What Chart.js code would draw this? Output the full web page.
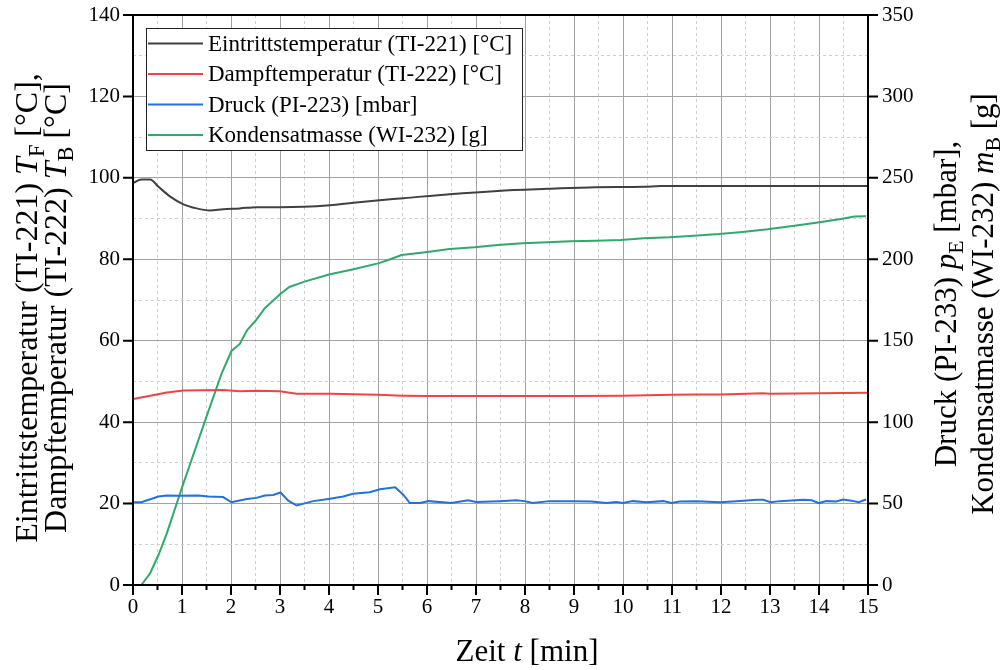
<!DOCTYPE html>
<html><head><meta charset="utf-8">
<script src="https://cdn.jsdelivr.net/npm/chart.js@4.4.1/dist/chart.umd.min.js"></script>
<style>html,body{margin:0;padding:0;background:#fff;}canvas{display:block;}</style>
</head><body>
<canvas id="c" width="1003" height="670"></canvas>
<script>
// ---- data (time in min) ----
const tEintritt = [0, 0.17, 0.35, 0.52, 0.76, 1.03, 1.3, 1.57, 1.84, 2.18, 2.52, 3.0, 3.48, 4.02, 4.5, 5.03, 5.52, 6.46, 7.44, 8.46, 9.44, 10.43, 10.77, 12, 13, 14, 15];
const eintritt  = [98.7, 99.6, 99.6, 97.8, 95.4, 93.5, 92.5, 92.0, 92.3, 92.5, 92.8, 92.8, 92.9, 93.3, 93.9, 94.5, 95.0, 96.0, 96.8, 97.3, 97.7, 97.8, 98.0, 98.0, 98.0, 98.0, 98.0];

const tDampf = [0, 0.35, 0.69, 1.03, 1.84, 2.18, 2.52, 3.0, 3.34, 4.02, 5.0, 5.5, 6.0, 7.0, 8.0, 9.0, 10.0, 11.0, 11.5, 12.0, 12.85, 13.0, 14.0, 15.0];
const dampf  = [45.7, 46.5, 47.3, 47.8, 47.9, 47.6, 47.7, 47.6, 47.0, 47.0, 46.7, 46.5, 46.4, 46.4, 46.4, 46.4, 46.5, 46.7, 46.8, 46.8, 47.1, 47.0, 47.1, 47.2];

const tDruck = [0, 0.17, 0.52, 0.69, 0.93, 1.33, 1.54, 1.84, 2.01, 2.32, 2.52, 2.69, 2.86, 3.01, 3.17, 3.34, 3.68, 4.02, 4.29, 4.49, 4.83, 5.04, 5.35, 5.52, 5.65, 5.86, 6.03, 6.5, 6.84, 7.0, 7.48, 7.82, 7.99, 8.16, 8.5, 8.98, 9.35, 9.66, 9.86, 10.0, 10.2, 10.48, 10.82, 10.99, 11.16, 11.5, 11.98, 12.32, 12.73, 12.86, 13.01, 13.2, 13.68, 13.85, 14.0, 14.15, 14.35, 14.49, 14.66, 14.81, 14.96];
const druck  = [50.8, 50.8, 54.3, 55.0, 54.8, 55.0, 54.3, 54.0, 50.8, 52.8, 53.5, 55.0, 55.3, 56.8, 51.8, 48.8, 51.5, 53.0, 54.3, 56.0, 57.0, 58.8, 60.0, 55.3, 50.3, 50.3, 51.5, 50.3, 52.0, 51.0, 51.5, 52.0, 51.5, 50.3, 51.5, 51.5, 51.3, 50.3, 51.0, 50.3, 51.5, 50.8, 51.5, 50.3, 51.3, 51.5, 50.8, 51.5, 52.3, 52.3, 50.8, 51.5, 52.3, 52.0, 50.3, 51.5, 51.3, 52.5, 51.8, 50.8, 52.5];

const tKond = [0, 0.17, 0.35, 0.52, 0.69, 1.03, 1.5, 1.81, 2.01, 2.18, 2.33, 2.52, 2.69, 3.0, 3.19, 3.5, 4.0, 4.5, 5.0, 5.21, 5.48, 5.97, 6.46, 6.97, 7.44, 7.95, 8.46, 8.93, 9.44, 9.95, 10.43, 10.94, 11.45, 11.96, 12.44, 12.95, 13.46, 13.94, 14.45, 14.72, 14.96];
const kond  = [0, 0, 7.2, 18.4, 31.7, 62.5, 103.4, 130, 143.7, 148, 156.6, 163, 170, 178.5, 183, 186.3, 190.6, 193.9, 197.5, 199.6, 202.6, 204.3, 206.3, 207.4, 208.8, 209.8, 210.4, 211.0, 211.4, 211.8, 212.9, 213.5, 214.5, 215.5, 216.8, 218.4, 220.4, 222.5, 224.8, 226.2, 226.4];

const seriesLabels = ['Eintrittstemperatur (TI-221) [°C]', 'Dampftemperatur (TI-222) [°C]', 'Druck (PI-223) [mbar]', 'Kondensatmasse (WI-232) [g]'];
const xTickLabels = [0,1,2,3,4,5,6,7,8,9,10,11,12,13,14,15];
const leftTickLabels = [0,20,40,60,80,100,120,140];
const rightTickLabels = [0,50,100,150,200,250,300,350];

const FONT = '"Liberation Serif", "Times New Roman", serif';
const pts = (t, v) => t.map((x, i) => ({x: x, y: v[i]}));

function fontStr(size, italic){ return (italic ? 'italic ' : '') + size + 'px ' + FONT; }
function drawRuns(ctx, runs, x, y, rot, size){
  ctx.save();
  ctx.translate(x, y);
  ctx.rotate(rot);
  ctx.textBaseline = 'alphabetic';
  ctx.textAlign = 'left';
  ctx.fillStyle = '#000';
  let total = 0;
  runs.forEach(r => { const s = r.sub ? size*0.7 : size; ctx.font = fontStr(s, r.it); total += ctx.measureText(r.t).width; });
  let cx = -total/2;
  runs.forEach(r => {
    const s = r.sub ? size*0.7 : size;
    ctx.font = fontStr(s, r.it);
    ctx.fillText(r.t, cx, r.sub ? size*0.22 : 0);
    cx += ctx.measureText(r.t).width;
  });
  ctx.restore();
}

const decor = {
  id: 'decor',
  afterDraw(chart){
    const ctx = chart.ctx, a = chart.chartArea;
    const sx = chart.scales.x, sy = chart.scales.y, sy2 = chart.scales.y2;
    ctx.save();
    // frame
    ctx.strokeStyle = '#000'; ctx.lineWidth = 2;
    ctx.strokeRect(a.left, a.top, a.right - a.left, a.bottom - a.top);
    // ticks
    ctx.beginPath();
    sx.ticks.forEach(tk => {
      const p = sx.getPixelForValue(tk.value);
      const len = xTickLabels.includes(tk.value) ? 10 : 5;
      ctx.moveTo(p, a.bottom); ctx.lineTo(p, a.bottom + len);
    });
    sy.ticks.forEach(tk => {
      if (!leftTickLabels.includes(tk.value)) return;
      const p = sy.getPixelForValue(tk.value);
      ctx.moveTo(a.left, p); ctx.lineTo(a.left - 10, p);
    });
    sy2.ticks.forEach(tk => {
      if (!rightTickLabels.includes(tk.value)) return;
      const p = sy2.getPixelForValue(tk.value);
      ctx.moveTo(a.right, p); ctx.lineTo(a.right + 10, p);
    });
    ctx.stroke();

    // legend
    const lx = 146, ly = 28, lw = 376, lh = 122;
    ctx.fillStyle = '#fff';
    ctx.fillRect(lx, ly, lw, lh);
    ctx.strokeStyle = '#222'; ctx.lineWidth = 1;
    ctx.strokeRect(lx + 0.5, ly + 0.5, lw, lh);
    const rows = [43.5, 74, 104.5, 135];
    chart.data.datasets.forEach((ds, i) => {
      ctx.strokeStyle = ds.borderColor; ctx.lineWidth = 2;
      ctx.beginPath(); ctx.moveTo(148, rows[i]); ctx.lineTo(203, rows[i]); ctx.stroke();
      ctx.fillStyle = '#000';
      ctx.font = fontStr(23, false);
      ctx.textBaseline = 'middle'; ctx.textAlign = 'left';
      ctx.fillText(ds.label, 208, rows[i] + 1);
    });

    // axis titles
    drawRuns(ctx, [{t:'Zeit '}, {t:'t', it:true}, {t:' [min]'}], 527, 661, 0, 31);
    const cy = (a.top + a.bottom)/2 + 8;
    drawRuns(ctx, [{t:'Eintrittstemperatur (TI-221) '}, {t:'T', it:true}, {t:'F', sub:true}, {t:' [°C],'}], 37, cy, -Math.PI/2, 32);
    drawRuns(ctx, [{t:'Dampftemperatur (TI-222) '}, {t:'T', it:true}, {t:'B', sub:true}, {t:' [°C]'}], 66, cy, -Math.PI/2, 32);
    drawRuns(ctx, [{t:'Druck (PI-233) '}, {t:'p', it:true}, {t:'E', sub:true}, {t:' [mbar],'}], 956, cy - 4, -Math.PI/2, 31);
    drawRuns(ctx, [{t:'Kondensatmasse (WI-232) '}, {t:'m', it:true}, {t:'B', sub:true}, {t:' [g]'}], 993, cy - 4, -Math.PI/2, 31);
    ctx.restore();
  }
};

const majorGrid = '#a2a2a2', minorGrid = '#cfcfcf';
const fitY = w => s => { s.width = w; s.paddingTop = 0; s.paddingBottom = 0; };

new Chart(document.getElementById('c'), {
  type: 'line',
  data: {
    datasets: [
      {label: seriesLabels[0], data: pts(tEintritt, eintritt), yAxisID: 'y', borderColor: '#404040', cubicInterpolationMode: 'monotone'},
      {label: seriesLabels[1], data: pts(tDampf, dampf), yAxisID: 'y', borderColor: '#f04444'},
      {label: seriesLabels[2], data: pts(tDruck, druck), yAxisID: 'y2', borderColor: '#1f72e0'},
      {label: seriesLabels[3], data: pts(tKond, kond), yAxisID: 'y2', borderColor: '#2eaa6a'}
    ]
  },
  options: {
    responsive: false,
    animation: false,
    devicePixelRatio: 1,
    layout: {padding: {top: 15, left: 0, right: 0, bottom: 0}},
    elements: {point: {radius: 0}, line: {borderWidth: 2, tension: 0}},
    plugins: {legend: {display: false}, tooltip: {enabled: false}},
    scales: {
      x: {
        type: 'linear', min: 0, max: 15,
        ticks: {stepSize: 0.5, autoSkip: false, maxRotation: 0, padding: 10, color: '#000',
          font: {family: FONT, size: 21},
          callback: v => xTickLabels.includes(v) ? String(v) : ''},
        grid: {drawTicks: false, color: c => xTickLabels.includes(c.tick.value) ? majorGrid : minorGrid, lineWidth: 1},
        border: {display: false, dash: c => (c.tick && xTickLabels.includes(c.tick.value)) ? [] : [3, 3]},
        afterFit: s => { s.height = 85; s.paddingLeft = 0; s.paddingRight = 0; }
      },
      y: {
        position: 'left', min: 0, max: 140,
        ticks: {stepSize: 10, autoSkip: false, padding: 13, color: '#000',
          font: {family: FONT, size: 21},
          callback: v => leftTickLabels.includes(v) ? String(v) : ''},
        grid: {drawTicks: false, color: c => leftTickLabels.includes(c.tick.value) ? majorGrid : minorGrid, lineWidth: 1},
        border: {display: false, dash: c => (c.tick && leftTickLabels.includes(c.tick.value)) ? [] : [3, 3]},
        afterFit: fitY(133)
      },
      y2: {
        position: 'right', min: 0, max: 350,
        ticks: {stepSize: 25, autoSkip: false, padding: 14, color: '#000',
          font: {family: FONT, size: 21},
          callback: v => rightTickLabels.includes(v) ? String(v) : ''},
        grid: {drawOnChartArea: false, drawTicks: false},
        border: {display: false},
        afterFit: fitY(135)
      }
    }
  },
  plugins: [decor]
});
</script>
</body></html>
